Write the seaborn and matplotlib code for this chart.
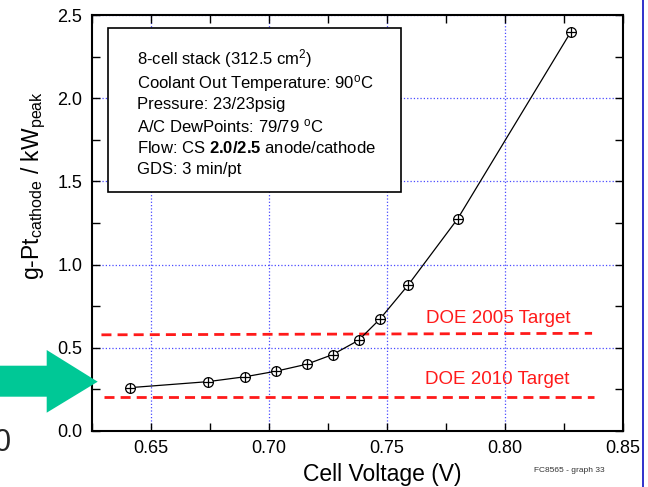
import matplotlib
matplotlib.use('Agg')
import matplotlib.pyplot as plt
import seaborn as sns
import pandas as pd
from matplotlib.patches import Rectangle, Polygon
from matplotlib.ticker import MultipleLocator, FormatStrFormatter

# measured points (cell voltage vs Pt loading per peak kW)
voltage = [0.641, 0.674, 0.690, 0.703, 0.716, 0.727, 0.738, 0.747, 0.759, 0.780, 0.828]
pt_loading = [0.259, 0.295, 0.325, 0.358, 0.400, 0.458, 0.544, 0.671, 0.876, 1.275, 2.400]

# DOE targets (dashed lines)
target_2005_x = [0.629, 0.837]
target_2005_y = [0.577, 0.586]
target_2010_x = [0.630, 0.838]
target_2010_y = [0.205, 0.205]

info_lines = [
    r'8-cell stack (312.5 cm$^\mathregular{2}$)',
    r'Coolant Out Temperature: 90$^\mathregular{o}$C',
    'Pressure: 23/23psig',
    r'A/C DewPoints: 79/79 $^\mathregular{o}$C',
    r'Flow: CS $\mathbf{2.0/2.5}$ anode/cathode',
    'GDS: 3 min/pt',
]

df = pd.DataFrame({'voltage': voltage, 'loading': pt_loading})

sns.set_theme(style='white')
plt.rcParams['font.family'] = ['Liberation Sans', 'DejaVu Sans']
plt.rcParams['mathtext.fontset'] = 'custom'
plt.rcParams['mathtext.rm'] = 'Liberation Sans'
plt.rcParams['mathtext.bf'] = 'Liberation Sans:bold'
plt.rcParams['mathtext.it'] = 'Liberation Sans:italic'

fig = plt.figure(figsize=(6.48, 4.87), dpi=100)
ax = fig.add_axes([0.142, 0.1156, 0.819, 0.853])

# curve with circle-plus markers
sns.lineplot(data=df, x='voltage', y='loading', color='black', linewidth=0.9,
             marker='o', markersize=7, markerfacecolor='white',
             markeredgecolor='black', markeredgewidth=0.9, ax=ax, zorder=4)
sns.scatterplot(data=df, x='voltage', y='loading', marker='+', s=45,
                color='black', linewidth=0.9, ax=ax, zorder=5)

ax.plot(target_2005_x, target_2005_y, color='#ff1a1a', linewidth=2, dashes=(3.6, 2.2), zorder=3)
ax.plot(target_2010_x, target_2010_y, color='#ff1a1a', linewidth=2, dashes=(3.6, 2.2), zorder=3)
ax.text(0.7665, 0.677, 'DOE 2005 Target', color='#ff1a1a', fontsize=13.5, va='center')
ax.text(0.7660, 0.310, 'DOE 2010 Target', color='#ff1a1a', fontsize=13.5, va='center')

ax.set_xlim(0.625, 0.85)
ax.set_ylim(0, 2.5)
ax.xaxis.set_major_locator(MultipleLocator(0.05))
ax.xaxis.set_minor_locator(MultipleLocator(0.025))
ax.yaxis.set_major_locator(MultipleLocator(0.5))
ax.yaxis.set_minor_locator(MultipleLocator(0.25))
ax.xaxis.set_major_formatter(FormatStrFormatter('%.2f'))
ax.yaxis.set_major_formatter(FormatStrFormatter('%.1f'))

ax.set_axisbelow(True)
ax.grid(True, which='major', color='#4a4aff', linestyle=':', linewidth=0.9)
ax.tick_params(which='both', direction='in', length=6, width=1, color='black',
               top=True, right=True, bottom=True, left=True)
ax.tick_params(which='major', labelsize=13, pad=7, labelcolor='black')
for sp in ax.spines.values():
    sp.set_color('black')
    sp.set_linewidth(1.5)

ax.set_xlabel('Cell Voltage (V)', fontsize=16.5, color='black')
ax.xaxis.set_label_coords(0.547, -0.1066)
ax.xaxis.label.set_va('center')
ax.set_ylabel(r'g-Pt$_\mathregular{cathode}$ / kW$_\mathregular{peak}$', fontsize=16.5, color='black')
ax.yaxis.set_label_coords(-0.11, 0.59)
ax.yaxis.label.set_va('center')

# info box
ax.add_patch(Rectangle((0.0307, 0.5753), 0.551, 0.3934, transform=ax.transAxes,
                       facecolor='white', edgecolor='black', linewidth=1.2, zorder=6))
line_base = [0.8820, 0.8243, 0.7737, 0.7174, 0.6678, 0.6172]
for txt, yy in zip(info_lines, line_base):
    ax.text(0.0854, yy, txt, transform=ax.transAxes, fontsize=12, va='baseline',
            color='black', zorder=7)

# slide decorations around the chart
W, H = 648, 487
arrow_px = [(0, 365.7), (46.7, 365.7), (46.7, 350), (97.7, 381.7),
            (46.7, 412.7), (46.7, 396.7), (0, 396.7)]
fig.patches.append(Polygon([(x / W, 1 - y / H) for x, y in arrow_px], closed=True,
                           transform=fig.transFigure, facecolor='#00c896',
                           edgecolor='none', zorder=3))
fig.patches.append(Rectangle((641.5 / W, 0), 2.7 / W, 1, transform=fig.transFigure,
                             facecolor='#3535cc', edgecolor='none', zorder=3))
fig.text(11 / W, 1 - 443 / H, '0', fontsize=22, ha='right', va='center')
fig.text(569.5 / W, 1 - 471 / H, 'FC8565 - graph 33', fontsize=6, ha='center',
         va='center', color='#333333')

fig.savefig('out.png', dpi=100)
